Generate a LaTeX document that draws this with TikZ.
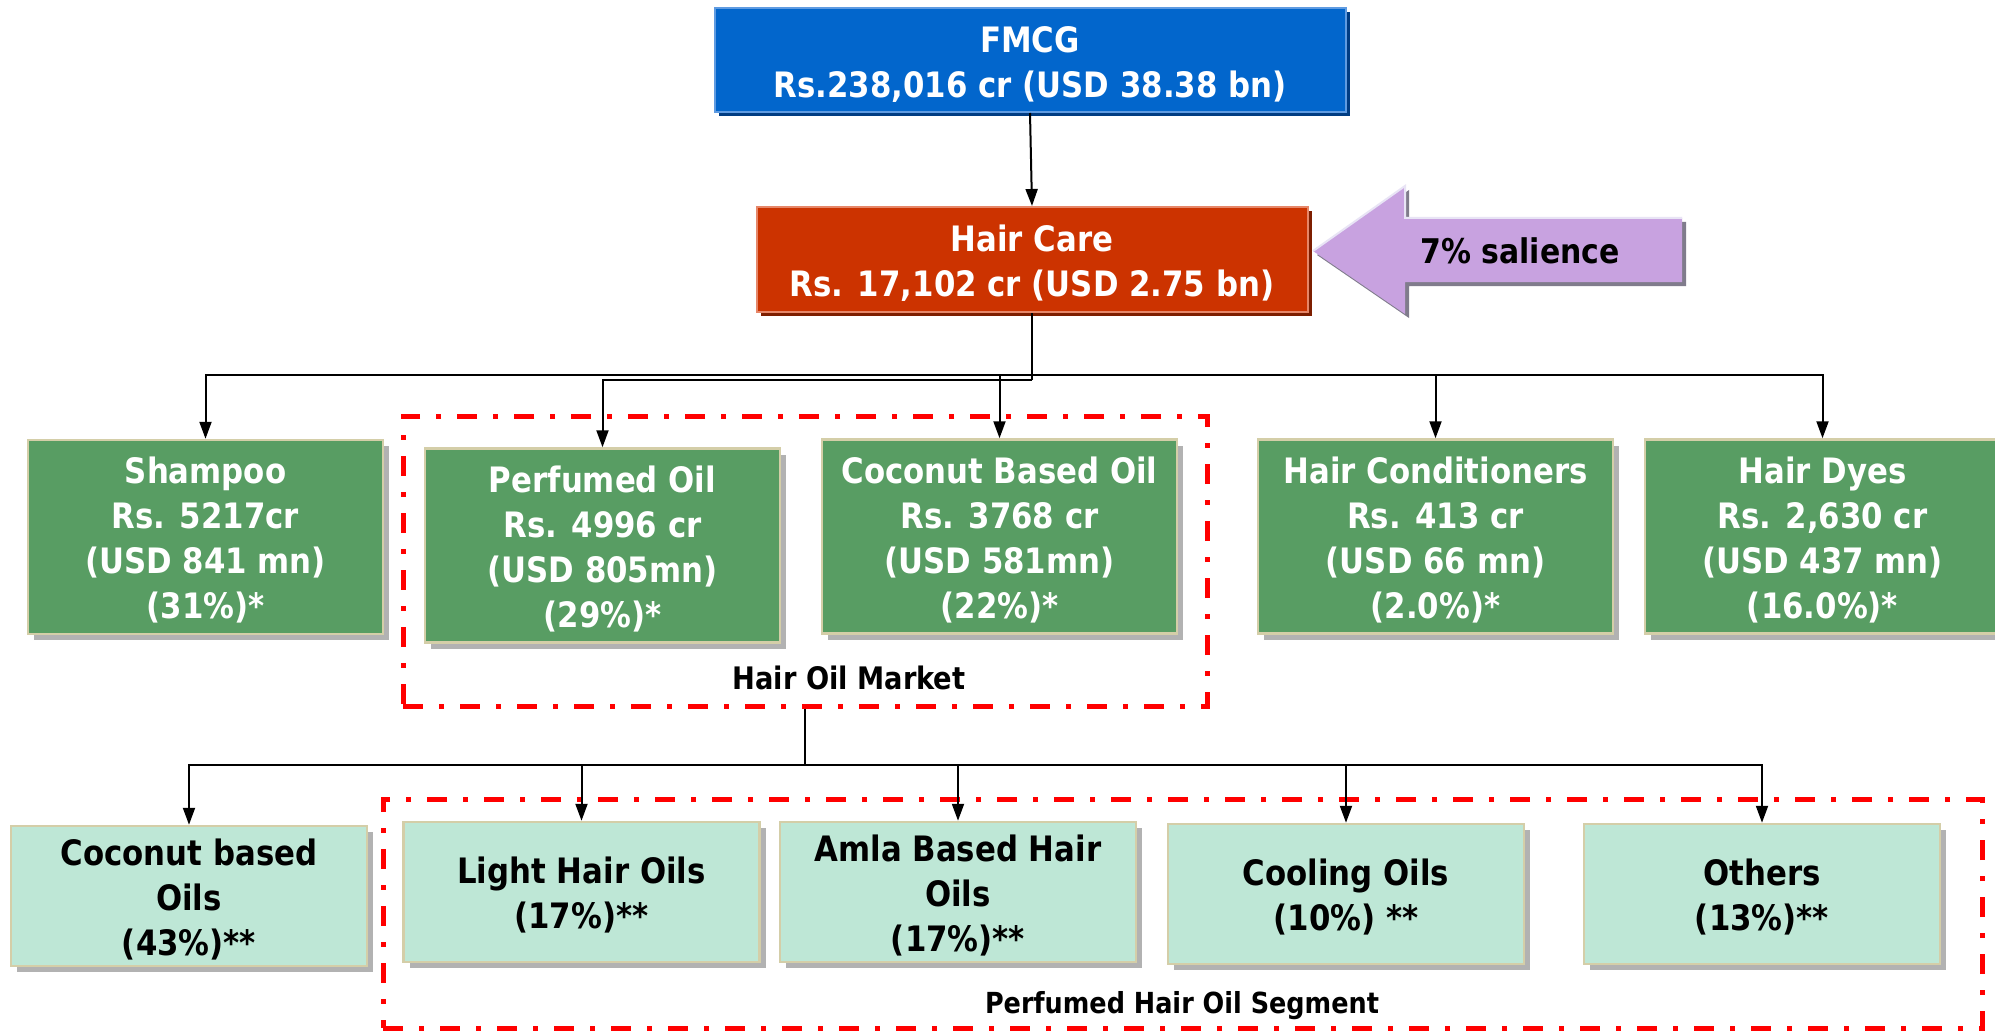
\documentclass[tikz,border=0pt]{standalone}
\usepackage{fontspec}
\setmainfont{DejaVu Sans}[FakeStretch=0.88]
\usetikzlibrary{arrows.meta,shadows}
\definecolor{fmcgblue}{RGB}{2,102,204}
\definecolor{fmcgedge}{RGB}{95,155,225}
\definecolor{fmcgshadow}{RGB}{0,60,130}
\definecolor{hcred}{RGB}{204,51,0}
\definecolor{hcedge}{RGB}{230,135,105}
\definecolor{hcshadow}{RGB}{125,30,0}
\definecolor{boxgreen}{RGB}{88,157,99}
\definecolor{boxmint}{RGB}{190,231,214}
\definecolor{tanedge}{RGB}{212,206,168}
\definecolor{shade}{RGB}{178,178,178}
\definecolor{lav}{RGB}{200,162,224}
\definecolor{lavshadow}{RGB}{128,124,140}
\definecolor{lavlight}{RGB}{232,228,245}
\begin{document}
\begin{tikzpicture}[x=1pt,y=-1pt,
  bigfont/.style={font=\fontsize{35}{45}\selectfont\bfseries},
  wtext/.style={align=center, inner sep=0pt, text=white, bigfont},
  ktext/.style={align=center, inner sep=0pt, text=black, bigfont},
  topbox/.style={rectangle, inner sep=0pt, line width=2pt},
  fmcgbox/.style={topbox, fill=fmcgblue, draw=fmcgedge, minimum width=631pt, minimum height=104pt,
     drop shadow={shadow xshift=4pt,shadow yshift=-4pt,fill=fmcgshadow,opacity=1}},
  hcbox/.style={topbox, fill=hcred, draw=hcedge, minimum width=551pt, minimum height=105pt,
     drop shadow={shadow xshift=4pt,shadow yshift=-4pt,fill=hcshadow,opacity=1}},
  gbox/.style={rectangle, inner sep=0pt, draw=tanedge, line width=2.5pt, fill=boxgreen,
     minimum width=355pt, minimum height=194pt,
     drop shadow={shadow xshift=6pt,shadow yshift=-6pt,fill=shade,opacity=1}},
  mbox/.style={rectangle, inner sep=0pt, draw=tanedge, line width=2.5pt, fill=boxmint,
     minimum width=356pt, minimum height=140pt,
     drop shadow={shadow xshift=6pt,shadow yshift=-6pt,fill=shade,opacity=1}},
  redbox/.style={rectangle, draw=red, line width=5pt, dash pattern=on 20pt off 16pt on 5pt off 16pt, inner sep=0pt},
  plainline/.style={draw=black, line width=2pt},
  conn/.style={plainline, -{Triangle[length=17pt,width=12pt]}}
]
\useasboundingbox (0,0) rectangle (1995,1035);
\fill[white] (0,0) rectangle (1995,1035);

% dash-dot group frames
\node[redbox, minimum width=804pt, minimum height=290pt] (hairoil) at (805,561) {};
\node[redbox, minimum width=1599pt, minimum height=229pt] (segment) at (1182.5,913.5) {};

% top
\node[fmcgbox] (fmcg) at (1030,60) {};
\node[wtext] (fmcg-t) at ([yshift=-4.5pt]fmcg.center) {FMCG\\Rs.238,016 cr (USD 38.38 bn)};
\node[hcbox] (hc) at (1032,259.5) {};
\node[wtext] (hc-t) at ([yshift=-3.5pt]hc.center) {Hair Care\\Rs. 17,102 cr (USD 2.75 bn)};

% salience arrow
\fill[lavshadow] (1317,255) -- (1409,190) -- (1409,222) -- (1686,222) -- (1686,286) -- (1409,286) -- (1409,318) -- cycle;
\fill[lav] (1313,251) -- (1405,186) -- (1405,218) -- (1682,218) -- (1682,282) -- (1405,282) -- (1405,314) -- cycle;
\draw[lavlight, line width=2pt] (1313,251) -- (1405,186) -- (1405,218) -- (1682,218);
\node[font=\fontsize{34}{40}\selectfont\bfseries, text=black] (sal) at (1520,251) {7\% salience};

% second level
\node[gbox] (shampoo) at (205.5,537) {};
\node[wtext] (shampoo-t) at ([yshift=-3.5pt]shampoo.center) {Shampoo\\Rs. 5217cr\\(USD 841 mn)\\(31\%)*};
\node[gbox] (perf) at (602.5,545.5) {};
\node[wtext] (perf-t) at ([yshift=-3.5pt]perf.center) {Perfumed Oil\\Rs. 4996 cr\\(USD 805mn)\\(29\%)*};
\node[gbox] (coco) at (999.5,536.5) {};
\node[wtext] (coco-t) at ([yshift=-3.5pt]coco.center) {Coconut Based Oil\\Rs. 3768 cr\\(USD 581mn)\\(22\%)*};
\node[gbox] (cond) at (1435.5,536.5) {};
\node[wtext] (cond-t) at ([yshift=-3.5pt]cond.center) {Hair Conditioners\\Rs. 413 cr\\(USD 66 mn)\\(2.0\%)*};
\node[gbox] (dyes) at (1822.5,536.5) {};
\node[wtext] (dyes-t) at ([yshift=-3.5pt]dyes.center) {Hair Dyes\\Rs. 2,630 cr\\(USD 437 mn)\\(16.0\%)*};

% third level
\node[mbox] (cbo) at (189,896) {};
\node[ktext] (cbo-t) at ([yshift=-3.5pt]cbo.center) {Coconut based\\Oils\\(43\%)**};
\node[mbox] (lho) at (581.5,892) {};
\node[ktext] (lho-t) at ([yshift=-3.5pt]lho.center) {Light Hair Oils\\(17\%)**};
\node[mbox] (amla) at (958,892) {};
\node[ktext] (amla-t) at ([yshift=-3.5pt]amla.center) {Amla Based Hair\\Oils\\(17\%)**};
\node[mbox] (cool) at (1346,894) {};
\node[ktext] (cool-t) at ([yshift=-3.5pt]cool.center) {Cooling Oils\\(10\%) **};
\node[mbox] (oth) at (1762,894) {};
\node[ktext] (oth-t) at ([yshift=-3.5pt]oth.center) {Others\\(13\%)**};

% labels
\node[font=\fontsize{31}{36}\selectfont\bfseries] (homlabel) at (849,678) {Hair Oil Market};
\node[font=\fontsize{29}{34}\selectfont\bfseries] (seglabel) at (1182,1006) {Perfumed Hair Oil Segment};

% connectors
\coordinate (bus1) at (1032,375);
\coordinate (bus1p) at (1032,380);
\draw[conn] (fmcg.south) -- (hc.north);
\draw[plainline] (hc.south) -- (bus1p);
\draw[conn] (bus1) -| (shampoo.north);
\draw[conn] (bus1p) -| (perf.north);
\draw[conn] (bus1) -| (coco.north);
\draw[conn] (bus1) -| (cond.north);
\draw[conn] (bus1) -| (dyes.north);

\coordinate (bus2) at (805,765);
\draw[plainline] (hairoil.south) -- (bus2);
\draw[conn] (bus2) -| (cbo.north);
\draw[conn] (bus2) -| (lho.north);
\draw[conn] (bus2) -| (amla.north);
\draw[conn] (bus2) -| (cool.north);
\draw[conn] (bus2) -| (oth.north);
\end{tikzpicture}
\end{document}
